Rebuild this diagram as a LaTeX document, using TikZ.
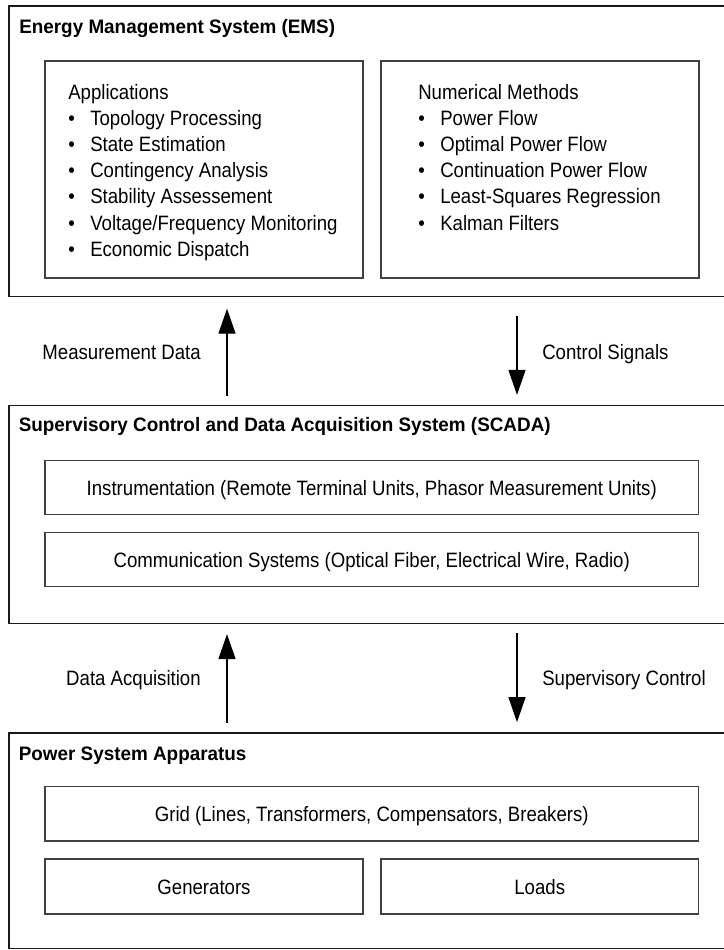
\documentclass[tikz,border=0pt]{standalone}
\usepackage{fontspec}
\setmainfont{Liberation Sans}[FakeStretch=0.895]
\newfontfamily\headfont{Liberation Sans}[FakeStretch=0.97]
\usetikzlibrary{arrows.meta,fit}
\begin{document}
\begin{tikzpicture}[x=0.75pt,y=-0.75pt,
  outer/.style={draw=black!90,line width=1.3pt,inner sep=0pt},
  inbox/.style={draw=black!75,line width=0.9pt,inner sep=0pt},
  body/.style={font=\fontsize{15.6pt}{18pt}\selectfont,inner sep=0pt},
  head/.style={font=\headfont\bfseries\fontsize{14.6pt}{17pt}\selectfont,inner sep=0pt,anchor=base west},
  flow/.style={line width=1pt,-{Triangle[length=18.75pt,width=12.75pt]}}
]
\useasboundingbox (0,0) rectangle (724,950);
\clip (0,0) rectangle (724,950);

% ---- three layers ----
\node[outer,fit={(9,6) (740,296.5)}] (ems) {};
\node[outer,fit={(9,405.5) (740,623.5)}] (scada) {};
\node[outer,fit={(9,733) (740,948.5)}] (psa) {};

\node[head] (emsT) at (19,33.3) {Energy Management System (EMS)};
\node[head] (scadaT) at (18.5,431) {Supervisory Control and Data Acquisition System (SCADA)};
\node[head] (psaT) at (18.5,760) {Power System Apparatus};

% ---- EMS contents ----
\node[inbox,fit={(45,61) (363,278)}] (apps) {};
\node[inbox,fit={(381,61) (699,278)}] (nums) {};

\node[body,anchor=base west] (appsH) at (68,99) {Applications};
\foreach \t [count=\i] in {Topology Processing,State Estimation,Contingency Analysis,Stability Assessement,Voltage/Frequency Monitoring,Economic Dispatch}{
  \node[body,anchor=base west] (appdot\i) at (68,{99+26.2*\i}) {\textbullet};
  \node[body,anchor=base west] (app\i) at (90,{99+26.2*\i}) {\t};
}

\node[body,anchor=base west] (numsH) at (418,99) {Numerical Methods};
\foreach \t [count=\i] in {Power Flow,Optimal Power Flow,Continuation Power Flow,Least-Squares Regression,Kalman Filters}{
  \node[body,anchor=base west] (numdot\i) at (418,{99+26.2*\i}) {\textbullet};
  \node[body,anchor=base west] (num\i) at (440,{99+26.2*\i}) {\t};
}

% ---- SCADA contents ----
\node[inbox,fit={(45,460.7) (698.5,514.3)}] (instr) {};
\node[inbox,fit={(45,532.7) (698.5,586.7)}] (comm) {};
\node[body,anchor=base] (instrT) at (371.75,495) {Instrumentation (Remote Terminal Units, Phasor Measurement Units)};
\node[body,anchor=base] (commT) at (371.75,567) {Communication Systems (Optical Fiber, Electrical Wire, Radio)};

% ---- apparatus contents ----
\node[inbox,fit={(45,786.7) (698.5,841)}] (grid) {};
\node[inbox,fit={(45,859) (363,914)}] (gens) {};
\node[inbox,fit={(381,859) (698.5,914)}] (loads) {};
\node[body,anchor=base] (gridT) at (371.75,821) {Grid (Lines, Transformers, Compensators, Breakers)};
\node[body,anchor=base] (gensT) at (204,894) {Generators};
\node[body,anchor=base] (loadsT) at (539.75,894) {Loads};

% ---- data and control flows ----
\coordinate (xL) at (227,0);
\coordinate (xR) at (517,0);
\draw[flow] ([yshift=6.3pt]scada.north -| xL) -- ([yshift=-8.5pt]ems.south -| xL);
\draw[flow] ([yshift=-14.25pt]ems.south -| xR) -- ([yshift=7.3pt]scada.north -| xR);
\draw[flow] ([yshift=6.75pt]psa.north -| xL) -- ([yshift=-7.3pt]scada.south -| xL);
\draw[flow] ([yshift=-6.5pt]scada.south -| xR) -- ([yshift=7.5pt]psa.north -| xR);

\node[body,anchor=base east] (lblMeas) at (201,359) {Measurement Data};
\node[body,anchor=base west] (lblCtrl) at (542,359) {Control Signals};
\node[body,anchor=base east] (lblAcq) at (201,685) {Data Acquisition};
\node[body,anchor=base west] (lblSup) at (542,685) {Supervisory Control};
\end{tikzpicture}
\end{document}
